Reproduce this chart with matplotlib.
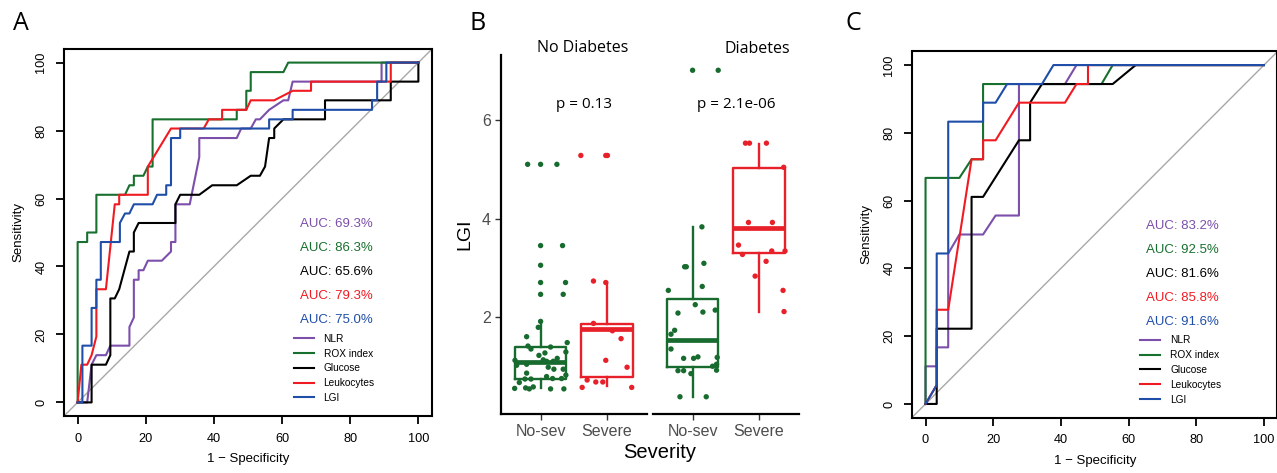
import numpy as np
import matplotlib.pyplot as plt
from matplotlib import rcParams

rcParams['font.family'] = ['Liberation Sans', 'DejaVu Sans']

names = ["NLR", "ROX index", "Glucose", "Leukocytes", "LGI"]
roc_colors = ['#7B4FAA', '#17702E', '#000000', '#F01B22', '#1F4EA8']

# panel A: ROC curves, (1 - specificity, sensitivity) in %
a_nlr_x = [0, 2.8, 4.1, 5.5, 8.3, 9.6, 15.2, 15.2, 16.5, 16.5, 17.9, 17.9, 19.3, 20.6, 24.7, 27.4, 27.4, 28.7,
           28.7, 32.9, 35.7, 35.7, 46.7, 48.0, 50.8, 52.3, 53.5, 56.2, 60.4, 61.8, 63.1, 89.2, 89.2, 100]
a_nlr_y = [0, 0, 11.1, 13.9, 13.9, 16.7, 16.7, 22.2, 25.0, 36.1, 36.1, 38.9, 38.9, 41.7, 41.7, 44.4, 47.2, 47.2,
           58.3, 58.3, 72.2, 77.8, 77.8, 80.6, 80.6, 83.3, 83.3, 86.1, 88.9, 88.9, 94.4, 94.4, 100, 100]
a_rox_x = [0, 0, 2.8, 2.8, 5.5, 5.5, 13.9, 15.2, 16.5, 16.5, 19.3, 20.6, 22.0, 22.0, 46.7, 46.7, 49.5, 49.5,
           50.8, 50.8, 60.4, 61.8, 100]
a_rox_y = [0, 47.2, 47.2, 50.0, 50.0, 61.1, 61.1, 63.9, 63.9, 66.7, 66.7, 69.4, 69.4, 83.3, 83.3, 86.1, 86.1, 91.7,
           91.7, 97.2, 97.2, 100, 100]
a_glu_x = [0, 4.1, 4.1, 8.3, 9.6, 9.6, 10.9, 12.2, 15.2, 16.5, 16.5, 17.9, 28.7, 28.7, 30.1, 35.7, 39.5, 46.7,
           50.8, 53.5, 55.0, 56.2, 57.7, 57.7, 60.4, 72.6, 72.6, 91.9, 91.9, 100, 100]
a_glu_y = [0, 0, 11.1, 11.1, 13.9, 30.6, 30.6, 33.3, 44.4, 44.4, 50.0, 52.8, 52.8, 58.3, 61.1, 61.1, 63.9, 63.9,
           66.7, 66.7, 69.4, 77.8, 77.8, 80.6, 83.3, 83.3, 88.9, 88.9, 94.4, 94.4, 100]
a_leu_x = [0, 1.1, 2.8, 4.1, 5.5, 5.5, 8.3, 10.9, 12.2, 12.2, 20.6, 20.6, 27.4, 37.0, 38.5, 42.4, 42.4, 49.5,
           50.8, 57.7, 63.1, 68.5, 68.5, 91.9, 91.9, 100]
a_leu_y = [0, 11.1, 11.1, 13.9, 19.4, 33.3, 33.3, 58.3, 58.3, 61.1, 61.1, 69.4, 80.6, 80.6, 83.3, 83.3, 86.1, 86.1,
           88.9, 88.9, 91.7, 91.7, 94.4, 94.4, 100, 100]
a_lgi_x = [0, 1.4, 1.4, 4.1, 4.1, 5.5, 5.5, 6.8, 6.8, 12.4, 12.4, 13.9, 15.2, 16.5, 22.0, 23.3, 26.0, 26.0, 27.4,
           27.4, 30.1, 30.1, 56.2, 56.2, 63.1, 63.1, 86.4, 86.4, 87.9, 87.9, 90.6, 90.6, 100]
a_lgi_y = [0, 0, 16.7, 16.7, 27.8, 27.8, 36.1, 36.1, 47.2, 47.2, 52.8, 55.6, 55.6, 58.3, 58.3, 61.1, 61.1, 63.9,
           63.9, 77.8, 77.8, 80.6, 80.6, 83.3, 83.3, 86.1, 86.1, 88.9, 88.9, 94.4, 94.4, 100, 100]
a_auc = ["AUC: 69.3%", "AUC: 86.3%", "AUC: 65.6%", "AUC: 79.3%", "AUC: 75.0%"]

# panel C: ROC curves
c_nlr_x = [0, 0, 3.3, 3.3, 6.7, 6.7, 10.0, 17.0, 20.7, 27.6, 27.6, 41.2, 44.6, 100]
c_nlr_y = [0, 11.1, 11.1, 16.7, 16.7, 44.4, 50.0, 50.0, 55.6, 55.6, 94.4, 94.4, 100, 100]
c_rox_x = [0, 0, 10.0, 13.6, 17.0, 17.0, 52.0, 55.3, 100]
c_rox_y = [0, 66.7, 66.7, 72.2, 72.2, 94.4, 94.4, 100, 100]
c_glu_x = [0, 3.3, 3.3, 13.6, 13.6, 17.0, 27.6, 30.9, 30.9, 34.4, 55.3, 62.1, 100]
c_glu_y = [0, 0, 22.2, 22.2, 61.1, 61.1, 77.8, 77.8, 88.9, 94.4, 94.4, 100, 100]
c_leu_x = [0, 3.3, 3.3, 6.7, 13.6, 17.0, 17.0, 20.7, 27.6, 41.2, 44.6, 48.0, 48.0, 100]
c_leu_y = [0, 5.6, 27.8, 27.8, 72.2, 72.2, 77.8, 77.8, 88.9, 88.9, 94.4, 94.4, 100, 100]
c_lgi_x = [0, 3.3, 3.3, 6.7, 6.7, 17.0, 17.0, 20.7, 24.1, 34.4, 37.8, 100]
c_lgi_y = [0, 5.6, 44.4, 44.4, 83.3, 83.3, 88.9, 88.9, 94.4, 94.4, 100, 100]
c_auc = ["AUC: 83.2%", "AUC: 92.5%", "AUC: 81.6%", "AUC: 85.8%", "AUC: 91.6%"]

# panel B: LGI by severity, faceted by diabetes
groups = ["No-sev", "Severe"]
facets = ["No Diabetes", "Diabetes"]
pvals = ["p = 0.13", "p = 2.1e-06"]
# box stats: whislo, q1, med, q3, whishi
box_nd_nosev = [0.56, 0.76, 1.09, 1.40, 1.92]
box_nd_sev = [0.60, 0.80, 1.77, 1.86, 2.71]
box_d_nosev = [0.39, 1.00, 1.54, 2.38, 3.84]
box_d_sev = [2.12, 3.30, 3.81, 5.04, 5.53]
# jittered points: horizontal offset from group centre, LGI value
nd_nosev_dx = [-0.195, 0, 0.245, 0, 0.33, 0, 0, 0.375, 0, 0.34, 0, -0.035, -0.21, -0.19, -0.145, 0.15, 0.40,
               0.38, -0.025, 0.065, -0.385, 0.04, 0.09, 0.19, 0.25, -0.21, -0.36, 0.115, 0.2, 0.34, -0.21, 0.09,
               0.18, 0.315, 0.38, -0.235, -0.145, -0.32, -0.39, -0.225, -0.17, -0.11, 0.15, 0.35]
nd_nosev_y = [5.11, 5.11, 5.11, 3.46, 3.46, 3.06, 2.71, 2.71, 2.47, 2.47, 1.92, 1.80, 1.61, 1.42, 1.36, 1.40, 1.49,
              1.30, 1.23, 1.28, 1.13, 1.14, 1.11, 1.11, 1.17, 1.05, 1.03, 0.99, 0.95, 0.95, 0.87, 0.80,
              0.76, 0.76, 0.83, 0.75, 0.75, 0.68, 0.56, 0.57, 0.55, 0.59, 0.55, 0.55]
nd_sev_dx = [-0.395, -0.02, 0.005, -0.205, -0.02, -0.205, 0.08, 0.21, -0.02, 0.30, -0.30, -0.17, -0.065,
             -0.375, 0.37]
nd_sev_y = [5.29, 5.29, 5.29, 2.74, 2.71, 1.88, 1.73, 1.57, 1.13, 0.99, 0.73, 0.69, 0.69, 0.58, 0.58]
d_nosev_dx = [0, 0.385, 0.14, -0.12, -0.095, 0.17, 0.145, -0.365, 0.04, -0.22, 0.155, 0.34, -0.27, -0.325,
              -0.325, -0.135, 0.015, 0.08, 0.37, 0.30, 0.36, 0.36, -0.22, -0.135, -0.025, -0.19, 0.205]
d_nosev_y = [7.02, 7.02, 3.84, 3.03, 3.03, 3.10, 2.63, 2.55, 2.26, 2.09, 2.11, 2.15, 1.74, 1.66,
             1.36, 1.17, 1.17, 1.20, 1.19, 1.01, 1.05, 0.93, 0.92, 0.92, 0.86, 0.39, 0.39]
d_sev_dx = [-0.205, -0.145, 0.11, 0.37, -0.16, 0.20, -0.31, -0.25, 0.19, 0.39, 0.105, -0.06, 0.36, 0.375]
d_sev_y = [5.54, 5.54, 5.54, 5.05, 3.93, 3.93, 3.47, 3.28, 3.35, 3.35, 3.14, 2.84, 2.55, 2.12]

green = '#186B2E'
red = '#E8202A'

W, H = 1277, 473
fig = plt.figure(figsize=(W / 100, H / 100), dpi=100)


def px_axes(l, t, r, b):
    return fig.add_axes([l / W, 1 - b / H, (r - l) / W, (b - t) / H])


def roc_panel(ax, curves, aucs):
    for (xs, ys), col, lab in zip(curves, roc_colors, names):
        ax.plot(xs, ys, color=col, lw=1.5, label=lab)
    ax.plot([-4, 104], [-4, 104], color='#A8A8A8', lw=1.0, zorder=0)
    ax.set_xlim(-4, 104)
    ax.set_ylim(-4, 104)
    ax.set_xticks(range(0, 101, 20))
    ax.set_yticks(range(0, 101, 20))
    ax.tick_params(length=6, width=1.3, labelsize=9.2, pad=6)
    ax.tick_params(axis='y', labelrotation=90)
    for lab in ax.get_yticklabels():
        lab.set_va('center')
    for s in ax.spines.values():
        s.set_linewidth(1.5)
    ax.set_xlabel('1 \u2212 Specificity', fontsize=9.5, labelpad=6)
    ax.set_ylabel('Sensitivity', fontsize=9.5, labelpad=8)
    for i, (txt, col) in enumerate(zip(aucs, roc_colors)):
        ax.text(76, 52.5 - 7.07 * i, txt, color=col, fontsize=9.5, ha='center', va='center')
    ax.legend(loc='upper left', bbox_to_anchor=(63.4, 20.2), bbox_transform=ax.transData, frameon=False,
              fontsize=7.3, handlelength=2.0, handletextpad=0.95, labelspacing=0.47, borderpad=0,
              borderaxespad=0)


axA = px_axes(64, 49, 432, 416)
roc_panel(axA, [(a_nlr_x, a_nlr_y), (a_rox_x, a_rox_y), (a_glu_x, a_glu_y), (a_leu_x, a_leu_y),
                (a_lgi_x, a_lgi_y)], a_auc)

axC = px_axes(912, 51.5, 1277.5, 417.5)
roc_panel(axC, [(c_nlr_x, c_nlr_y), (c_rox_x, c_rox_y), (c_glu_x, c_glu_y), (c_leu_x, c_leu_y),
                (c_lgi_x, c_lgi_y)], c_auc)

# panel B
axBL = px_axes(500.7, 55, 647, 414)
axBR = px_axes(652.7, 55, 799, 414)
panels = [
    (axBL, [box_nd_nosev, box_nd_sev], [(nd_nosev_dx, nd_nosev_y), (nd_sev_dx, nd_sev_y)]),
    (axBR, [box_d_nosev, box_d_sev], [(d_nosev_dx, d_nosev_y), (d_sev_dx, d_sev_y)]),
]
for k, (ax, boxes, pts) in enumerate(panels):
    for j, (st, (dx, yv), col) in enumerate(zip(boxes, pts, [green, red])):
        stats = [dict(whislo=st[0], q1=st[1], med=st[2], q3=st[3], whishi=st[4], fliers=[])]
        ax.bxp(stats, positions=[j + 1], widths=0.77, showcaps=False, showfliers=False,
               boxprops=dict(color=col, lw=1.7), whiskerprops=dict(color=col, lw=1.7),
               medianprops=dict(color=col, lw=3.4, solid_capstyle='butt'), manage_ticks=False)
        ax.scatter(np.array(dx) + j + 1, yv, s=15, color=col, edgecolors='none', zorder=5)
    ax.set_xlim(0.4, 2.6)
    ax.set_ylim(0.04, 7.33)
    ax.set_xticks([1, 2])
    ax.set_xticklabels(groups)
    ax.tick_params(axis='x', length=4, width=1.0, color='#333333', labelsize=11.5, labelcolor='#4D4D4D', pad=3)
    for s in ['top', 'right']:
        ax.spines[s].set_visible(False)
    ax.spines['bottom'].set_linewidth(1.6)
    ax.spines['left'].set_linewidth(1.6)
    ax.patch.set_visible(False)
    ax.text(1.65, 6.33, pvals[k], fontsize=11, ha='center', va='center', family=['Open Sans', 'DejaVu Sans'])

axBL.set_yticks([2, 4, 6])
axBL.tick_params(axis='y', length=4, width=1.0, color='#333333', labelsize=11.5, labelcolor='#4D4D4D', pad=3)
axBL.set_ylabel('LGI', fontsize=14, labelpad=6)
axBR.spines['left'].set_visible(False)
axBR.set_yticks([])

fig.text(583 / W, 1 - 48 / H, facets[0], fontsize=11.5, ha='center', va='center',
         family=['Open Sans', 'DejaVu Sans'])
fig.text(757 / W, 1 - 49 / H, facets[1], fontsize=11.5, ha='center', va='center',
         family=['Open Sans', 'DejaVu Sans'])
fig.text(660 / W, 1 - 452 / H, 'Severity', fontsize=14.5, ha='center', va='center')

for lab, x in zip(['A', 'B', 'C'], [20.5, 478, 853]):
    fig.text(x / W, 1 - 24 / H, lab, fontsize=18, ha='center', va='center', family=['Open Sans', 'DejaVu Sans'])

fig.savefig('out.png', dpi=100)
